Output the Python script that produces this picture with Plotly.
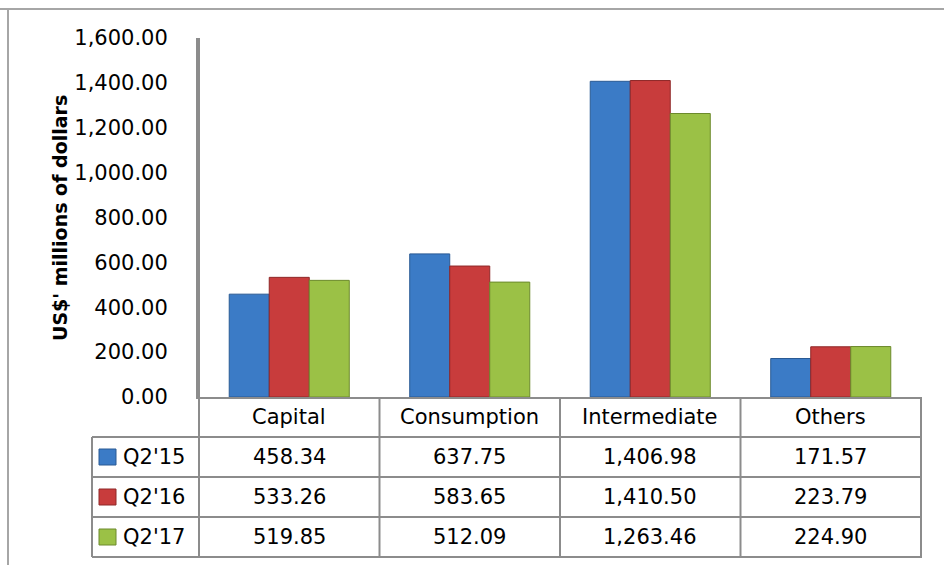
import plotly.graph_objects as go

# Import values by category (US$ millions)
categories = ["Capital", "Consumption", "Intermediate", "Others"]
series_names = ["Q2'15", "Q2'16", "Q2'17"]
q2_15 = [458.34, 637.75, 1406.98, 171.57]
q2_16 = [533.26, 583.65, 1410.50, 223.79]
q2_17 = [519.85, 512.09, 1263.46, 224.90]
y_ticks = [0, 200, 400, 600, 800, 1000, 1200, 1400, 1600]

series_values = [q2_15, q2_16, q2_17]
fill_colors = ["#3b7bc6", "#c83c3c", "#9bc146"]
edge_colors = ["#2a5a94", "#8f2828", "#6c8a2c"]

W, H = 944, 565
# plot area in pixels
PX0, PX1 = 198, 922
PY0, PY1 = 38, 397
pw, ph = PX1 - PX0, PY1 - PY0


def px(x):
    return (x - PX0) / pw


def py(y):
    return (PY1 - y) / ph


FONT = "DejaVu Sans"
GRID = "#8c8c8c"

fig = go.Figure()
for name, vals, fc, ec in zip(series_names, series_values, fill_colors, edge_colors):
    fig.add_trace(go.Bar(
        x=categories, y=vals, name=name,
        marker=dict(color=fc, line=dict(color=ec, width=1)),
        hoverinfo="x+y+name",
    ))

shapes = []
annotations = []

# data table rows (pixel y of row borders)
row_lines = [437, 477, 517, 557]
header_mid = (PY1 + row_lines[0]) / 2
row_mids = [(row_lines[i] + row_lines[i + 1]) / 2 for i in range(3)]
LEG_X0 = 92

line_style = dict(color=GRID, width=2)
# horizontal borders
for yl in row_lines:
    shapes.append(dict(type="line", xref="paper", yref="paper",
                       x0=px(LEG_X0), x1=1, y0=py(yl), y1=py(yl), line=line_style))
# vertical borders at category boundaries
for i in range(len(categories) + 1):
    xb = i - 0.5
    y_top = PY1 if i > 0 else PY0
    shapes.append(dict(type="line", xref="x", yref="paper",
                       x0=xb, x1=xb, y0=py(y_top), y1=py(row_lines[-1]), line=line_style))
# left border of the legend column
shapes.append(dict(type="line", xref="paper", yref="paper",
                   x0=px(LEG_X0), x1=px(LEG_X0), y0=py(row_lines[0]), y1=py(row_lines[-1]),
                   line=line_style))

# outer chart frame
shapes.append(dict(type="line", xref="paper", yref="paper",
                   x0=px(0), x1=px(W), y0=py(9), y1=py(9),
                   line=dict(color="#a6a6a6", width=2)))
shapes.append(dict(type="line", xref="paper", yref="paper",
                   x0=px(8), x1=px(8), y0=py(9), y1=py(H + 5),
                   line=dict(color="#a6a6a6", width=2)))

# header row: category names
for c in categories:
    annotations.append(dict(x=c, y=py(header_mid), xref="x", yref="paper",
                            text=c, showarrow=False, xanchor="center", yanchor="middle",
                            font=dict(family=FONT, size=21, color="#000000")))

# value rows with legend keys
for r, (name, vals, fc, ec) in enumerate(zip(series_names, series_values, fill_colors, edge_colors)):
    ym = row_mids[r]
    shapes.append(dict(type="rect", xref="paper", yref="paper",
                       x0=px(99), x1=px(116), y0=py(ym - 8), y1=py(ym + 8),
                       fillcolor=fc, line=dict(color=ec, width=1)))
    annotations.append(dict(x=px(121), y=py(ym), xref="paper", yref="paper",
                            text=name, showarrow=False, xanchor="left", yanchor="middle",
                            font=dict(family=FONT, size=21, color="#000000")))
    for c, v in zip(categories, vals):
        annotations.append(dict(x=c, y=py(ym), xref="x", yref="paper",
                                text=f"{v:,.2f}", showarrow=False,
                                xanchor="center", yanchor="middle",
                                font=dict(family=FONT, size=21, color="#000000")))

# y-axis title
annotations.append(dict(x=px(60), y=py(218), xref="paper", yref="paper",
                        text="<b>US$' millions of dollars</b>", textangle=-90,
                        showarrow=False, xanchor="center", yanchor="middle",
                        font=dict(family=FONT, size=19, color="#000000")))

fig.update_layout(
    width=W, height=H,
    margin=dict(l=PX0, r=W - PX1, t=PY0, b=H - PY1),
    paper_bgcolor="white", plot_bgcolor="white",
    barmode="group", bargap=0.335, bargroupgap=0.0,
    showlegend=False,
    font=dict(family=FONT, size=21, color="#000000"),
    shapes=shapes, annotations=annotations,
    xaxis=dict(showticklabels=False, showgrid=False, zeroline=False,
               showline=True, linecolor=GRID, linewidth=2, ticks="",
               fixedrange=True),
    yaxis=dict(range=[0, 1600], tickvals=y_ticks, tickformat=",.2f",
               showgrid=False, zeroline=False, showline=True,
               linecolor=GRID, linewidth=2, ticks="", ticklabelstandoff=24,
               tickfont=dict(family=FONT, size=21, color="#000000"),
               fixedrange=True),
)

fig.write_html("out.html")
